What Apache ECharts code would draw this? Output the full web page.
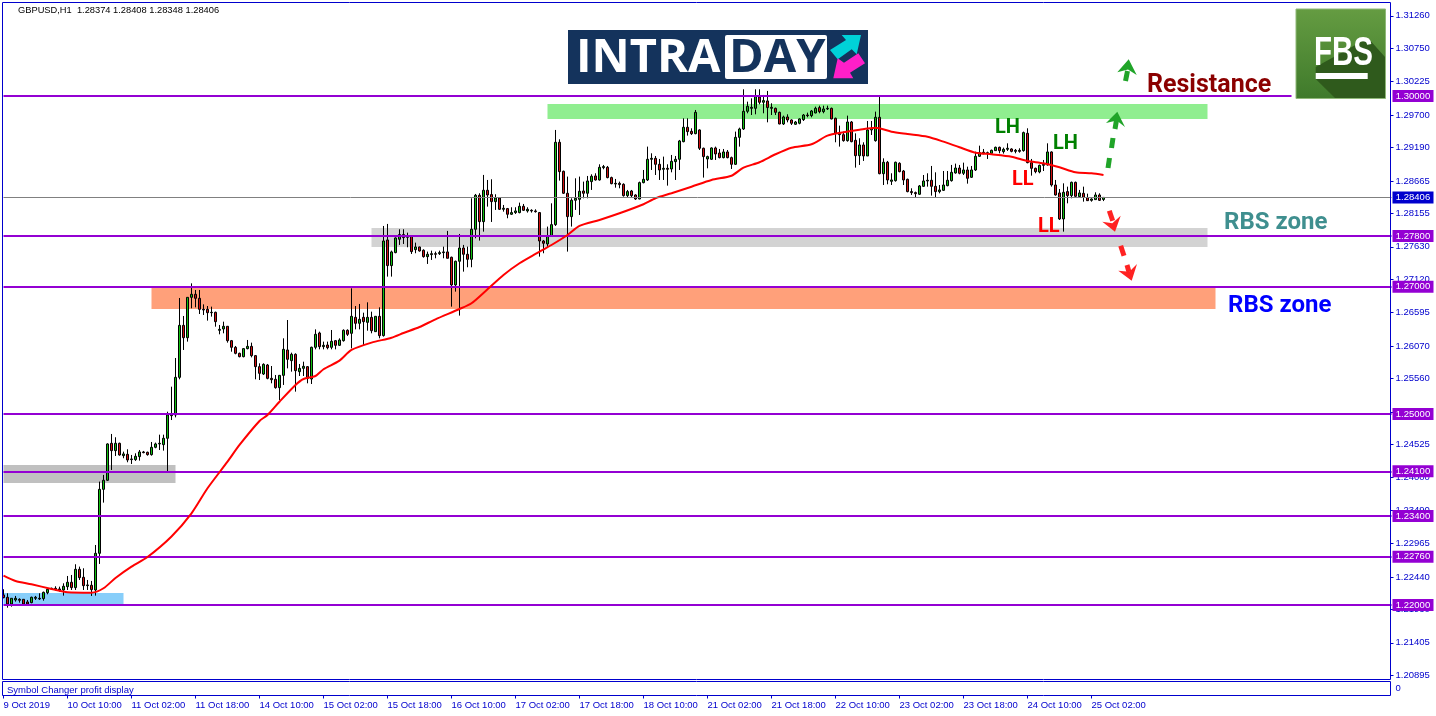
<!DOCTYPE html>
<html>
<head>
<meta charset="utf-8">
<style>html,body{margin:0;padding:0;background:#fff}#c{width:1436px;height:716px}</style>
<script src="https://cdn.jsdelivr.net/npm/echarts@6/dist/echarts.min.js"></script>
</head>
<body>
<div id="c"></div>
<script>
const opens = [
1.22158,1.22121,1.22016,1.22079,1.22089,1.22089,1.22048,1.22037,1.22105,1.22105,
1.22100,1.22194,1.22252,1.22262,1.22252,1.22236,1.22288,1.22357,1.22273,1.22561,
1.22435,1.22304,1.22310,1.22236,1.22812,1.23818,1.23960,1.24541,1.24426,1.24541,
1.24347,1.24368,1.24285,1.24285,1.24332,1.24405,1.24400,1.24363,1.24478,1.24531,
1.24520,1.24620,1.24976,1.24986,1.25578,1.26395,1.26201,1.26835,1.26883,1.26820,
1.26647,1.26647,1.26594,1.26600,1.26317,1.26338,1.26380,1.26154,1.26050,1.25955,
1.25903,1.26029,1.26065,1.25919,1.25746,1.25630,1.25772,1.25562,1.25547,1.25416,
1.25609,1.26008,1.25840,1.25940,1.25667,1.25719,1.25746,1.25552,1.26050,1.26275,
1.26060,1.26086,1.26050,1.26154,1.26081,1.26154,1.26317,1.26270,1.26521,1.26427,
1.26521,1.26442,1.26521,1.26296,1.26537,1.26234,1.27737,1.27334,1.27538,1.27748,
1.27821,1.27779,1.27790,1.27585,1.27627,1.27575,1.27475,1.27507,1.27522,1.27522,
1.27538,1.27549,1.27465,1.27030,1.27402,1.27611,1.27512,1.27433,1.27905,1.28439,
1.28025,1.28518,1.28450,1.28340,1.28397,1.28219,1.28230,1.28141,1.28167,1.28167,
1.28266,1.28193,1.28203,1.28193,1.28167,1.27721,1.27674,1.27800,1.27978,1.29272,
1.28816,1.28471,1.28104,1.28361,1.28376,1.28507,1.28471,1.28654,1.28743,1.28680,
1.28874,1.28879,1.28717,1.28617,1.28627,1.28612,1.28434,1.28507,1.28444,1.28381,
1.28638,1.28680,1.29005,1.29020,1.28926,1.28848,1.28863,1.28853,1.28968,1.29005,
1.29282,1.29508,1.29445,1.29408,1.29466,1.29178,1.29010,1.29005,1.29183,1.29104,
1.29031,1.29120,1.29031,1.28926,1.29350,1.29481,1.29759,1.29806,1.29806,1.29984,
1.29901,1.29922,1.29806,1.29806,1.29743,1.29560,1.29670,1.29623,1.29555,1.29571,
1.29628,1.29701,1.29691,1.29733,1.29817,1.29754,1.29796,1.29806,1.29649,1.29413,
1.29392,1.29298,1.29591,1.29303,1.29062,1.29230,1.29057,1.29466,1.29298,1.29665,
1.28779,1.28958,1.28659,1.28669,1.28942,1.28821,1.28690,1.28497,1.28481,1.28455,
1.28580,1.28664,1.28675,1.28580,1.28497,1.28517,1.28591,1.28669,1.28790,1.28868,
1.28785,1.28837,1.28722,1.28837,1.29052,1.29104,1.29109,1.29099,1.29141,1.29193,
1.29125,1.29162,1.29167,1.29130,1.29146,1.29141,1.29413,1.28952,1.28863,1.28806,
1.28910,1.28916,1.29120,1.28601,1.28476,1.28067,1.28497,1.28434,1.28643,1.28418,
1.28470,1.28402,1.28360,1.28371,1.28444,1.28374];
const closes = [
1.22116,1.22016,1.22105,1.22105,1.22074,1.22016,1.22016,1.22121,1.22121,1.22095,
1.22199,1.22247,1.22262,1.22247,1.22236,1.22294,1.22357,1.22273,1.22561,1.22430,
1.22304,1.22315,1.22241,1.22812,1.23818,1.23960,1.24531,1.24426,1.24541,1.24358,
1.24374,1.24279,1.24295,1.24337,1.24405,1.24395,1.24363,1.24478,1.24531,1.24541,
1.24620,1.24986,1.25002,1.25578,1.26395,1.26201,1.26835,1.26883,1.26820,1.26647,
1.26636,1.26594,1.26600,1.26453,1.26332,1.26380,1.26154,1.26050,1.25955,1.25903,
1.26029,1.26065,1.25919,1.25746,1.25641,1.25782,1.25562,1.25541,1.25416,1.25609,
1.26018,1.25861,1.25940,1.25683,1.25719,1.25751,1.25562,1.26050,1.26254,1.26060,
1.26081,1.26044,1.26144,1.26081,1.26165,1.26317,1.26254,1.26537,1.26427,1.26490,
1.26453,1.26521,1.26311,1.26537,1.26233,1.27721,1.27334,1.27549,1.27769,1.27821,
1.27774,1.27800,1.27554,1.27627,1.27564,1.27475,1.27512,1.27522,1.27512,1.27538,
1.27549,1.27449,1.27030,1.27402,1.27611,1.27512,1.27433,1.27905,1.28439,1.28025,
1.28518,1.28444,1.28340,1.28397,1.28219,1.28235,1.28141,1.28167,1.28193,1.28266,
1.28203,1.28219,1.28193,1.28182,1.27721,1.27685,1.27800,1.27978,1.29272,1.28811,
1.28471,1.28104,1.28361,1.28392,1.28502,1.28471,1.28664,1.28738,1.28680,1.28879,
1.28890,1.28717,1.28622,1.28627,1.28607,1.28434,1.28497,1.28434,1.28381,1.28638,
1.28690,1.29005,1.29020,1.28926,1.28837,1.28863,1.28848,1.28973,1.29005,1.29293,
1.29508,1.29440,1.29408,1.29743,1.29178,1.29047,1.29047,1.29183,1.29089,1.29031,
1.29120,1.29031,1.28926,1.29350,1.29481,1.29759,1.29838,1.29822,1.29990,1.29901,
1.29927,1.29817,1.29822,1.29743,1.29560,1.29670,1.29623,1.29571,1.29591,1.29639,
1.29701,1.29691,1.29764,1.29806,1.29754,1.29796,1.29806,1.29639,1.29413,1.29392,
1.29298,1.29591,1.29282,1.29062,1.29230,1.29057,1.29466,1.29492,1.29665,1.28779,
1.28958,1.28680,1.28680,1.28958,1.28811,1.28680,1.28497,1.28481,1.28465,1.28586,
1.28664,1.28675,1.28580,1.28497,1.28523,1.28601,1.28675,1.28800,1.28868,1.28785,
1.28837,1.28706,1.28837,1.29052,1.29109,1.29115,1.29094,1.29146,1.29193,1.29141,
1.29162,1.29178,1.29130,1.29146,1.29130,1.29424,1.28952,1.28863,1.28811,1.28910,
1.28926,1.29120,1.28601,1.28444,1.28067,1.28486,1.28434,1.28643,1.28423,1.28476,
1.28407,1.28355,1.28381,1.28444,1.28360,1.28406];
const lows = [
1.22105,1.21958,1.21974,1.22053,1.22037,1.22016,1.22016,1.22027,1.22079,1.22079,
1.22068,1.22168,1.22236,1.22226,1.22210,1.22147,1.22236,1.22236,1.22236,1.22393,
1.22236,1.22236,1.22142,1.22147,1.22645,1.23609,1.23949,1.24122,1.24342,1.24347,
1.24306,1.24243,1.24216,1.24264,1.24269,1.24384,1.24347,1.24347,1.24463,1.24436,
1.24426,1.24096,1.24907,1.24949,1.25547,1.26008,1.26139,1.26663,1.26678,1.26573,
1.26558,1.26469,1.26532,1.26374,1.26254,1.26270,1.26123,1.25981,1.25940,1.25892,
1.25892,1.26018,1.25892,1.25547,1.25536,1.25615,1.25547,1.25484,1.25400,1.25222,
1.25458,1.25719,1.25667,1.25353,1.25599,1.25599,1.25484,1.25473,1.26018,1.26018,
1.26018,1.26018,1.26018,1.26018,1.26071,1.26139,1.26228,1.26034,1.26332,1.26332,
1.26086,1.26311,1.26270,1.26291,1.26191,1.26218,1.27161,1.27161,1.27528,1.27659,
1.27674,1.27622,1.27517,1.27528,1.27554,1.27459,1.27360,1.27423,1.27449,1.27501,
1.27449,1.27449,1.26689,1.26925,1.26548,1.27239,1.27308,1.27308,1.27763,1.27727,
1.27868,1.28261,1.28020,1.28209,1.28209,1.28182,1.28078,1.28130,1.28146,1.28156,
1.28193,1.28167,1.28167,1.28167,1.27475,1.27528,1.27622,1.27790,1.27957,1.28670,
1.28460,1.27554,1.27947,1.28209,1.28130,1.28392,1.28392,1.28523,1.28670,1.28670,
1.28848,1.28706,1.28612,1.28559,1.28549,1.28418,1.28402,1.28402,1.28366,1.28376,
1.28627,1.28664,1.28837,1.28758,1.28680,1.28680,1.28591,1.28800,1.28680,1.28837,
1.29272,1.29377,1.29387,1.29398,1.29151,1.28717,1.28863,1.28994,1.28994,1.29020,
1.29020,1.29020,1.28853,1.28916,1.29204,1.29466,1.29728,1.29701,1.29712,1.29869,
1.29728,1.29586,1.29701,1.29701,1.29555,1.29544,1.29586,1.29544,1.29544,1.29555,
1.29607,1.29665,1.29665,1.29728,1.29728,1.29728,1.29780,1.29633,1.29272,1.29204,
1.29282,1.29282,1.29272,1.28874,1.28916,1.28979,1.29057,1.29387,1.29282,1.28769,
1.28601,1.28612,1.28601,1.28654,1.28800,1.28601,1.28486,1.28444,1.28402,1.28444,
1.28570,1.28575,1.28434,1.28402,1.28470,1.28507,1.28580,1.28654,1.28779,1.28769,
1.28758,1.28622,1.28711,1.28821,1.29041,1.29083,1.29010,1.29094,1.29136,1.29099,
1.29094,1.29136,1.29115,1.29099,1.29109,1.29125,1.28942,1.28748,1.28785,1.28785,
1.28821,1.28905,1.28575,1.28434,1.28051,1.27868,1.28313,1.28392,1.28402,1.28402,
1.28339,1.28350,1.28339,1.28366,1.28350,1.28348];
const highs = [
1.22247,1.22184,1.22105,1.22142,1.22105,1.22089,1.22079,1.22131,1.22142,1.22184,
1.22210,1.22262,1.22273,1.22294,1.22288,1.22341,1.22456,1.22472,1.22640,1.22603,
1.22577,1.22393,1.22378,1.22943,1.23939,1.24044,1.24541,1.24688,1.24636,1.24552,
1.24410,1.24447,1.24358,1.24384,1.24436,1.24421,1.24410,1.24562,1.24552,1.24677,
1.24677,1.25038,1.25431,1.25882,1.26825,1.26542,1.26835,1.27055,1.26951,1.26951,
1.26725,1.26699,1.26689,1.26610,1.26401,1.26453,1.26385,1.26165,1.26071,1.25966,
1.26039,1.26165,1.26123,1.25929,1.25798,1.25798,1.25788,1.25756,1.25615,1.25615,
1.26191,1.26479,1.25966,1.25955,1.25788,1.25824,1.25756,1.26060,1.26332,1.26296,
1.26139,1.26139,1.26322,1.26165,1.26191,1.26332,1.26332,1.26977,1.26699,1.26731,
1.26594,1.26757,1.26610,1.26542,1.26678,1.27957,1.27989,1.27569,1.27779,1.27905,
1.27905,1.27852,1.27800,1.27695,1.27632,1.27590,1.27554,1.27569,1.27554,1.27569,
1.27632,1.27879,1.27475,1.27412,1.27831,1.27659,1.27632,1.28392,1.28460,1.28471,
1.28759,1.28680,1.28691,1.28455,1.28408,1.28287,1.28240,1.28251,1.28251,1.28324,
1.28303,1.28251,1.28219,1.28219,1.28177,1.27737,1.27947,1.28313,1.29466,1.29319,
1.28827,1.28733,1.28392,1.28706,1.28733,1.28654,1.28743,1.28769,1.28785,1.28926,
1.28916,1.28900,1.28732,1.28696,1.28654,1.28627,1.28523,1.28523,1.28455,1.28654,
1.28837,1.29204,1.29099,1.29057,1.29010,1.29047,1.28926,1.29073,1.29057,1.29309,
1.29649,1.29649,1.29492,1.29780,1.29476,1.29188,1.29062,1.29193,1.29204,1.29167,
1.29167,1.29151,1.29047,1.29440,1.29502,1.30105,1.29911,1.29963,1.30105,1.30105,
1.30016,1.30079,1.29885,1.29817,1.29754,1.29691,1.29712,1.29633,1.29607,1.29649,
1.29717,1.29738,1.29780,1.29832,1.29848,1.29848,1.29848,1.29817,1.29660,1.29534,
1.29440,1.29691,1.29607,1.29413,1.29335,1.29272,1.29607,1.29607,1.29754,1.29990,
1.29020,1.28979,1.28785,1.28968,1.28958,1.28837,1.28701,1.28549,1.28497,1.28601,
1.28758,1.28785,1.28900,1.28800,1.28601,1.28821,1.28821,1.28916,1.28937,1.28916,
1.28952,1.28889,1.28900,1.29125,1.29219,1.29167,1.29125,1.29157,1.29204,1.29204,
1.29188,1.29256,1.29178,1.29167,1.29178,1.29440,1.29492,1.29010,1.28874,1.28921,
1.28994,1.29256,1.29130,1.28680,1.28538,1.28627,1.28575,1.28654,1.28654,1.28523,
1.28575,1.28465,1.28392,1.28486,1.28470,1.28408];

const maBars = [0,3,7,12,16,22,25,28,32,36,42,47,51,56,59,64,66,69,73,75,78,80,84,87,92,97,100,104,108,114,117,121,125,129,133,137,141,144,149,154,160,163,167,172,177,182,185,189,193,197,202,206,210,214,218,222,226,231,235,239,243,247,252,256,260,264,268,272,275];
const maValues = [1.22461,1.22377,1.22325,1.22252,1.22200,1.22193,1.22263,1.22424,1.22602,1.22754,1.23077,1.23441,1.23834,1.24252,1.24515,1.24892,1.24986,1.25195,1.25458,1.25552,1.25599,1.25705,1.25840,1.26008,1.26123,1.26201,1.26275,1.26369,1.26490,1.26652,1.26742,1.26962,1.27187,1.27371,1.27517,1.27658,1.27815,1.27957,1.28051,1.28156,1.28298,1.28392,1.28471,1.28574,1.28680,1.28747,1.28873,1.28958,1.29084,1.29187,1.29241,1.29376,1.29429,1.29470,1.29502,1.29439,1.29403,1.29360,1.29282,1.29194,1.29109,1.29084,1.29046,1.28978,1.28942,1.28879,1.28801,1.28785,1.28758];

const dateLabels = ['9 Oct 2019','10 Oct 10:00','11 Oct 02:00','11 Oct 18:00','14 Oct 10:00','15 Oct 02:00','15 Oct 18:00','16 Oct 10:00','17 Oct 02:00','17 Oct 18:00','18 Oct 10:00','21 Oct 02:00','21 Oct 18:00','22 Oct 10:00','23 Oct 02:00','23 Oct 18:00','24 Oct 10:00','25 Oct 02:00'];
const priceTicks = [1.31260,1.30750,1.30225,1.29700,1.29190,1.28665,1.28155,1.27630,1.27120,1.26595,1.26070,1.25560,1.25035,1.24525,1.24000,1.23490,1.22965,1.22440,1.21930,1.21405,1.20895];
const levels = [1.278,1.27,1.25,1.241,1.234,1.2276,1.22];
const resistance = 1.30;
const lastPrice = 1.28406;
const AXIS_BLUE = '#0000cd', PURPLE = '#9400d3';
const labelFont = '"Liberation Sans", Arial, sans-serif';

const SLOTS = 348;
const categories = Array.from({length: SLOTS}, (_, i) => (i % 16 === 0 && dateLabels[i / 16]) || '');
const candles = opens.map((o, i) => [o, closes[i], lows[i], highs[i]]);
const ma = maBars.map((b, i) => [b, maValues[i]]);
const hasDate = (i) => categories[i] !== '';

const zoneRect = (x0, y0, x1, y1, color) => [
  {coord: [x0, y0], itemStyle: {color, opacity: 1}}, {coord: [x1, y1]}
];
const flag = (v, color) => ({
  coord: [SLOTS - 1, v], symbol: 'rect', symbolSize: [41, 12], symbolOffset: [21.5, 0],
  itemStyle: {color},
  label: {show: true, position: 'inside', formatter: v.toFixed(5), color: '#fff', fontSize: 9.5, fontFamily: labelFont}
});

const poly = (points, fill, z) => ({type: 'polygon', shape: {points}, style: {fill}, z: z || 20, silent: true});
const seg = (x1, y1, x2, y2, stroke) => ({type: 'line', shape: {x1, y1, x2, y2}, style: {stroke, lineWidth: 5}, z: 20, silent: true});
const txt = (x, y, text, fill, font, extra) => Object.assign({type: 'text', x, y, style: {text, fill, font, verticalAlign: 'middle', align: 'left'}, z: 21, silent: true}, extra || {});

const GREEN = '#20a428', RED = '#ff2222';
const graphics = [
  {type: 'rect', shape: {x: 2.5, y: 2.5, width: 1388, height: 677}, style: {fill: 'none', stroke: AXIS_BLUE, lineWidth: 1}, z: 19, silent: true},
  {type: 'rect', shape: {x: 2.5, y: 681.5, width: 1388, height: 14}, style: {fill: 'none', stroke: AXIS_BLUE, lineWidth: 1}, z: 19, silent: true},
  txt(18, 10, 'GBPUSD,H1  1.28374 1.28408 1.28348 1.28406', '#000', '9.3px ' + labelFont),
  txt(7, 690.5, 'Symbol Changer profit display', AXIS_BLUE, '9.5px ' + labelFont),
  txt(1147, 86, 'Resistance', '#8b0000', 'bold 25px Roboto'),
  txt(1224, 223, 'RBS zone', '#3f8f8f', 'bold 24px Roboto'),
  txt(1228, 306, 'RBS zone', '#0000ff', 'bold 24px Roboto'),
  txt(995, 128, 'LH', '#008000', 'bold 20px Roboto'),
  txt(1053, 144, 'LH', '#008000', 'bold 20px Roboto'),
  txt(1012, 180, 'LL', '#ff0000', 'bold 20px Roboto'),
  txt(1038, 227, 'LL', '#ff0000', 'bold 20px Roboto'),
  // green arrows
  seg(1108, 168, 1109.5, 158, GREEN), seg(1111.5, 148, 1113, 138, GREEN), seg(1115, 129, 1116.5, 120, GREEN),
  poly([[1117.3,111.7],[1125,127],[1116.7,120.5],[1106,123]], GREEN),
  seg(1125.5, 81, 1127.5, 71, GREEN),
  poly([[1128.7,59.3],[1136.7,75],[1128,69.5],[1117.3,72.3]], GREEN),
  // red arrows
  seg(1109.3, 210.7, 1112.7, 220.7, RED),
  poly([[1115,231.7],[1102.3,221.7],[1112.3,223.3],[1120.7,215.7]], RED),
  seg(1120.7, 245.7, 1124, 255.7, RED), seg(1127, 265, 1129, 272, RED),
  poly([[1131.7,280.7],[1118.3,270.7],[1129.3,271.7],[1137,264]], RED),
  // INTRADAY logo
  {type: 'rect', shape: {x: 568, y: 30, width: 300, height: 54}, style: {fill: '#14335c'}, z: 20, silent: true},
  txt(576, 59, 'INTRA', '#fff', 'bold 47px "Open Sans", Roboto, sans-serif'),
  {type: 'rect', shape: {x: 725, y: 35, width: 102, height: 44, r: 2}, style: {fill: '#fff'}, z: 20, silent: true},
  txt(729, 59, 'DAY', '#14335c', 'bold 47px "Open Sans", Roboto, sans-serif'),
  poly([[841.7,35],[861,35],[856.7,54.3],[851.7,49.3],[837.7,59.3],[830,50],[846,40]], '#00d2d8'),
  poly([[833.3,78.3],[837.7,58.3],[844,62.7],[858.3,53.3],[865,63.3],[850,72.7],[853.3,78.3]], '#ff1fc8'),
  // FBS logo
  {type: 'rect', shape: {x: 1296, y: 9, width: 89.5, height: 89.5}, style: {
    fill: {type: 'linear', x: 0, y: 0, x2: 0, y2: 1, colorStops: [{offset: 0, color: '#659c42'}, {offset: 1, color: '#3f7a2b'}]}, stroke: '#8fb878', lineWidth: 1}, z: 20, silent: true},
  poly([[1368,38],[1385,57],[1385,98],[1335,98],[1315.7,79],[1315.7,67]], '#2f5a1c'),
  txt(1314, 53.5, 'FBS', '#fff', 'bold 41px "Liberation Sans", sans-serif', {scaleX: 0.72}),
  {type: 'rect', shape: {x: 1315.7, y: 73, width: 52, height: 6}, style: {fill: '#fff'}, z: 21, silent: true}
];

const axisLabelCommon = {color: AXIS_BLUE, fontSize: 9.5, fontFamily: labelFont};
const option = {
  animation: false,
  backgroundColor: '#fff',
  graphic: {elements: graphics},
  grid: [
    {left: 3.5, width: 1388, top: 2, height: 678, containLabel: false},
    {left: 3.5, width: 1388, top: 681, height: 14.5, containLabel: false}
  ],
  xAxis: [
    {type: 'category', gridIndex: 0, data: categories, boundaryGap: false, axisLine: {show: false}, axisTick: {show: false}, axisLabel: {show: false}, splitLine: {show: false}},
    {type: 'category', gridIndex: 1, data: categories, boundaryGap: false, position: 'bottom',
     axisLine: {show: false, onZero: false},
     axisTick: {show: true, interval: hasDate, length: 3, lineStyle: {color: AXIS_BLUE}},
     axisLabel: Object.assign({show: true, interval: hasDate, align: 'left', margin: 5, hideOverlap: false}, axisLabelCommon),
     splitLine: {show: false}}
  ],
  yAxis: [
    {type: 'value', gridIndex: 0, position: 'right', offset: -1, min: 1.20821, max: 1.31477, scale: true,
     axisLine: {show: false}, splitLine: {show: false},
     axisTick: {show: true, length: 3, inside: false, customValues: priceTicks, lineStyle: {color: AXIS_BLUE}},
     axisLabel: Object.assign({show: true, margin: 5, padding: [2, 0, 0, 0], customValues: priceTicks, formatter: v => v.toFixed(5), showMinLabel: true, showMaxLabel: true, hideOverlap: false}, axisLabelCommon)},
    {type: 'value', gridIndex: 1, position: 'right', offset: -1, min: -1, max: 1,
     axisLine: {show: false}, splitLine: {show: false},
     axisTick: {show: false},
     axisLabel: Object.assign({show: true, margin: 5, padding: [1, 0, 0, 0], customValues: [0], formatter: v => String(v)}, axisLabelCommon)}
  ],
  series: [
    {name: 'zones', type: 'line', xAxisIndex: 0, yAxisIndex: 0, data: [], z: 1, silent: true,
     markArea: {silent: true, z: 1, data: [
       zoneRect(136, 1.29874, 301, 1.29639, '#90ee90'),
       zoneRect(92, 1.27925, 301, 1.27627, '#d3d3d3'),
       zoneRect(37, 1.27000, 303, 1.26652, '#ffa07a'),
       zoneRect(0, 1.24200, 43, 1.23917, '#c0c0c0'),
       zoneRect(0, 1.22189, 30, 1.22000, '#87cefa')
     ]},
     markLine: {silent: true, symbol: 'none', label: {show: false}, animation: false, precision: 5,
       lineStyle: {color: '#808080', width: 1, type: 'solid'},
       data: [{yAxis: lastPrice}]}},
    {name: 'GBPUSD,H1', type: 'candlestick', xAxisIndex: 0, yAxisIndex: 0, data: candles, barWidth: 3, z: 2, clip: false, silent: true,
     itemStyle: {color: '#10c010', color0: '#d01010', borderColor: '#000', borderColor0: '#000', borderColorDoji: '#000', borderWidth: 1}},
    {name: 'levels', type: 'line', xAxisIndex: 0, yAxisIndex: 0, data: [], z: 3, silent: true,
     markLine: {silent: true, symbol: 'none', label: {show: false}, animation: false, z: 3, precision: 5,
       lineStyle: {color: PURPLE, width: 2, type: 'solid'},
       data: levels.map(v => ({yAxis: v})).concat([[{coord: [0, resistance]}, {coord: [322, resistance]}]])}},
    {name: 'MA', type: 'line', xAxisIndex: 0, yAxisIndex: 0, data: ma, showSymbol: false, symbol: 'none', z: 4, silent: true, smooth: 0.25,
     lineStyle: {color: '#ff0000', width: 2}},
    {name: 'flags', type: 'line', xAxisIndex: 0, yAxisIndex: 0, data: [], z: 5, silent: true,
     markPoint: {silent: true, animation: false, z: 5,
       data: [resistance].concat(levels).map(v => flag(v, PURPLE)).concat([flag(lastPrice, AXIS_BLUE)])}}
  ]
};
const chart = echarts.init(document.getElementById('c'), null, {renderer: 'canvas', width: 1436, height: 716});
chart.setOption(option);
</script>
</body>
</html>
